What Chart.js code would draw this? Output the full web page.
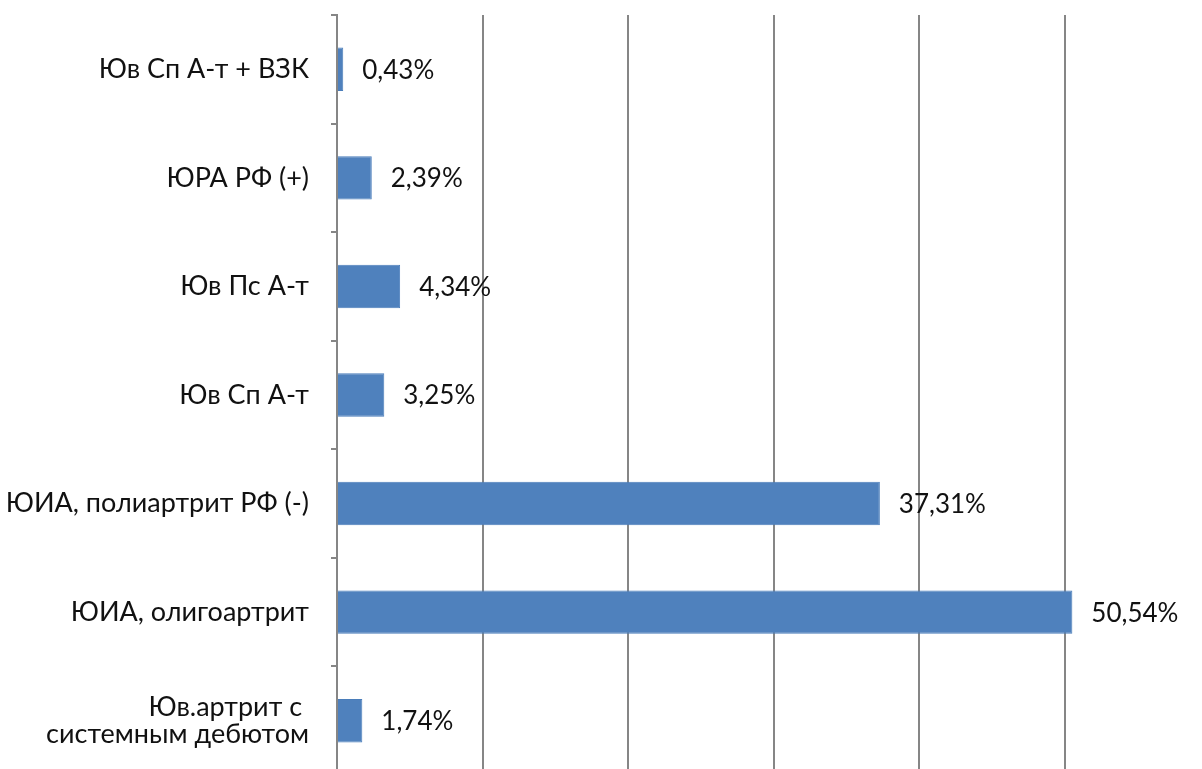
<!DOCTYPE html>
<html>
<head>
<meta charset="utf-8">
<script src="https://cdn.jsdelivr.net/npm/chart.js@4/dist/chart.umd.min.js"></script>
<style>
  html, body { margin: 0; padding: 0; background: #fff; overflow: hidden; }
  canvas { display: block; }
</style>
</head>
<body>
<canvas id="forms" width="1210" height="780"></canvas>
<script>
// forms of juvenile arthritis, share of patients (%)
const categories = [
  "Юв Сп А-т + ВЗК",
  "ЮРА РФ (+)",
  "Юв Пс А-т",
  "Юв Сп А-т",
  "ЮИА, полиартрит РФ (-)",
  "ЮИА, олигоартрит",
  ["Юв.артрит с ", "системным дебютом"],
];
const shares = [0.43, 2.39, 4.34, 3.25, 37.31, 50.54, 1.74];

const FONT = "Lato";
const gridGray = "#868686";

// value labels to the right of each bar, decimal comma
const valueLabels = {
  id: "valueLabels",
  afterDatasetsDraw(chart) {
    const ctx = chart.ctx;
    const meta = chart.getDatasetMeta(0);
    ctx.save();
    ctx.font = "26px " + FONT;
    ctx.fillStyle = "#111";
    ctx.textAlign = "left";
    ctx.textBaseline = "middle";
    meta.data.forEach((bar, i) => {
      const txt = shares[i].toFixed(2).replace(".", ",") + "%";
      ctx.fillText(txt, bar.x + 19, bar.y + 1);
    });
    ctx.restore();
  },
};

new Chart(document.getElementById("forms"), {
  type: "bar",
  data: {
    labels: categories,
    datasets: [{
      data: shares,
      backgroundColor: "#4f81bd",
      borderColor: "#4a7dba",
      borderWidth: 1,
      categoryPercentage: 1,
      barPercentage: 0.4,
    }],
  },
  plugins: [valueLabels],
  options: {
    indexAxis: "y",
    responsive: false,
    animation: false,
    layout: { padding: { top: 15, right: 0, bottom: 5, left: 0 } },
    plugins: { legend: { display: false }, tooltip: { enabled: false } },
    scales: {
      x: {
        min: 0,
        max: 60,
        ticks: { display: false, stepSize: 10 },
        grid: { color: gridGray, lineWidth: 2, drawTicks: false },
        border: { display: false },
        afterFit(scale) {
          scale.height = 0;
          scale.paddingLeft = 0;
          scale.paddingRight = 0;
        },
      },
      y: {
        grid: {
          drawOnChartArea: false,
          drawTicks: true,
          tickLength: 6,
          color: gridGray,
          lineWidth: 2,
          offset: true,
        },
        border: { display: true, color: gridGray, width: 2 },
        ticks: {
          color: "#111",
          padding: 22,
          font: { family: FONT, size: 27, lineHeight: 0.97 },
        },
        afterFit(scale) {
          scale.width = 337;
          scale.paddingTop = 0;
          scale.paddingBottom = 0;
        },
      },
    },
  },
});
</script>
</body>
</html>
